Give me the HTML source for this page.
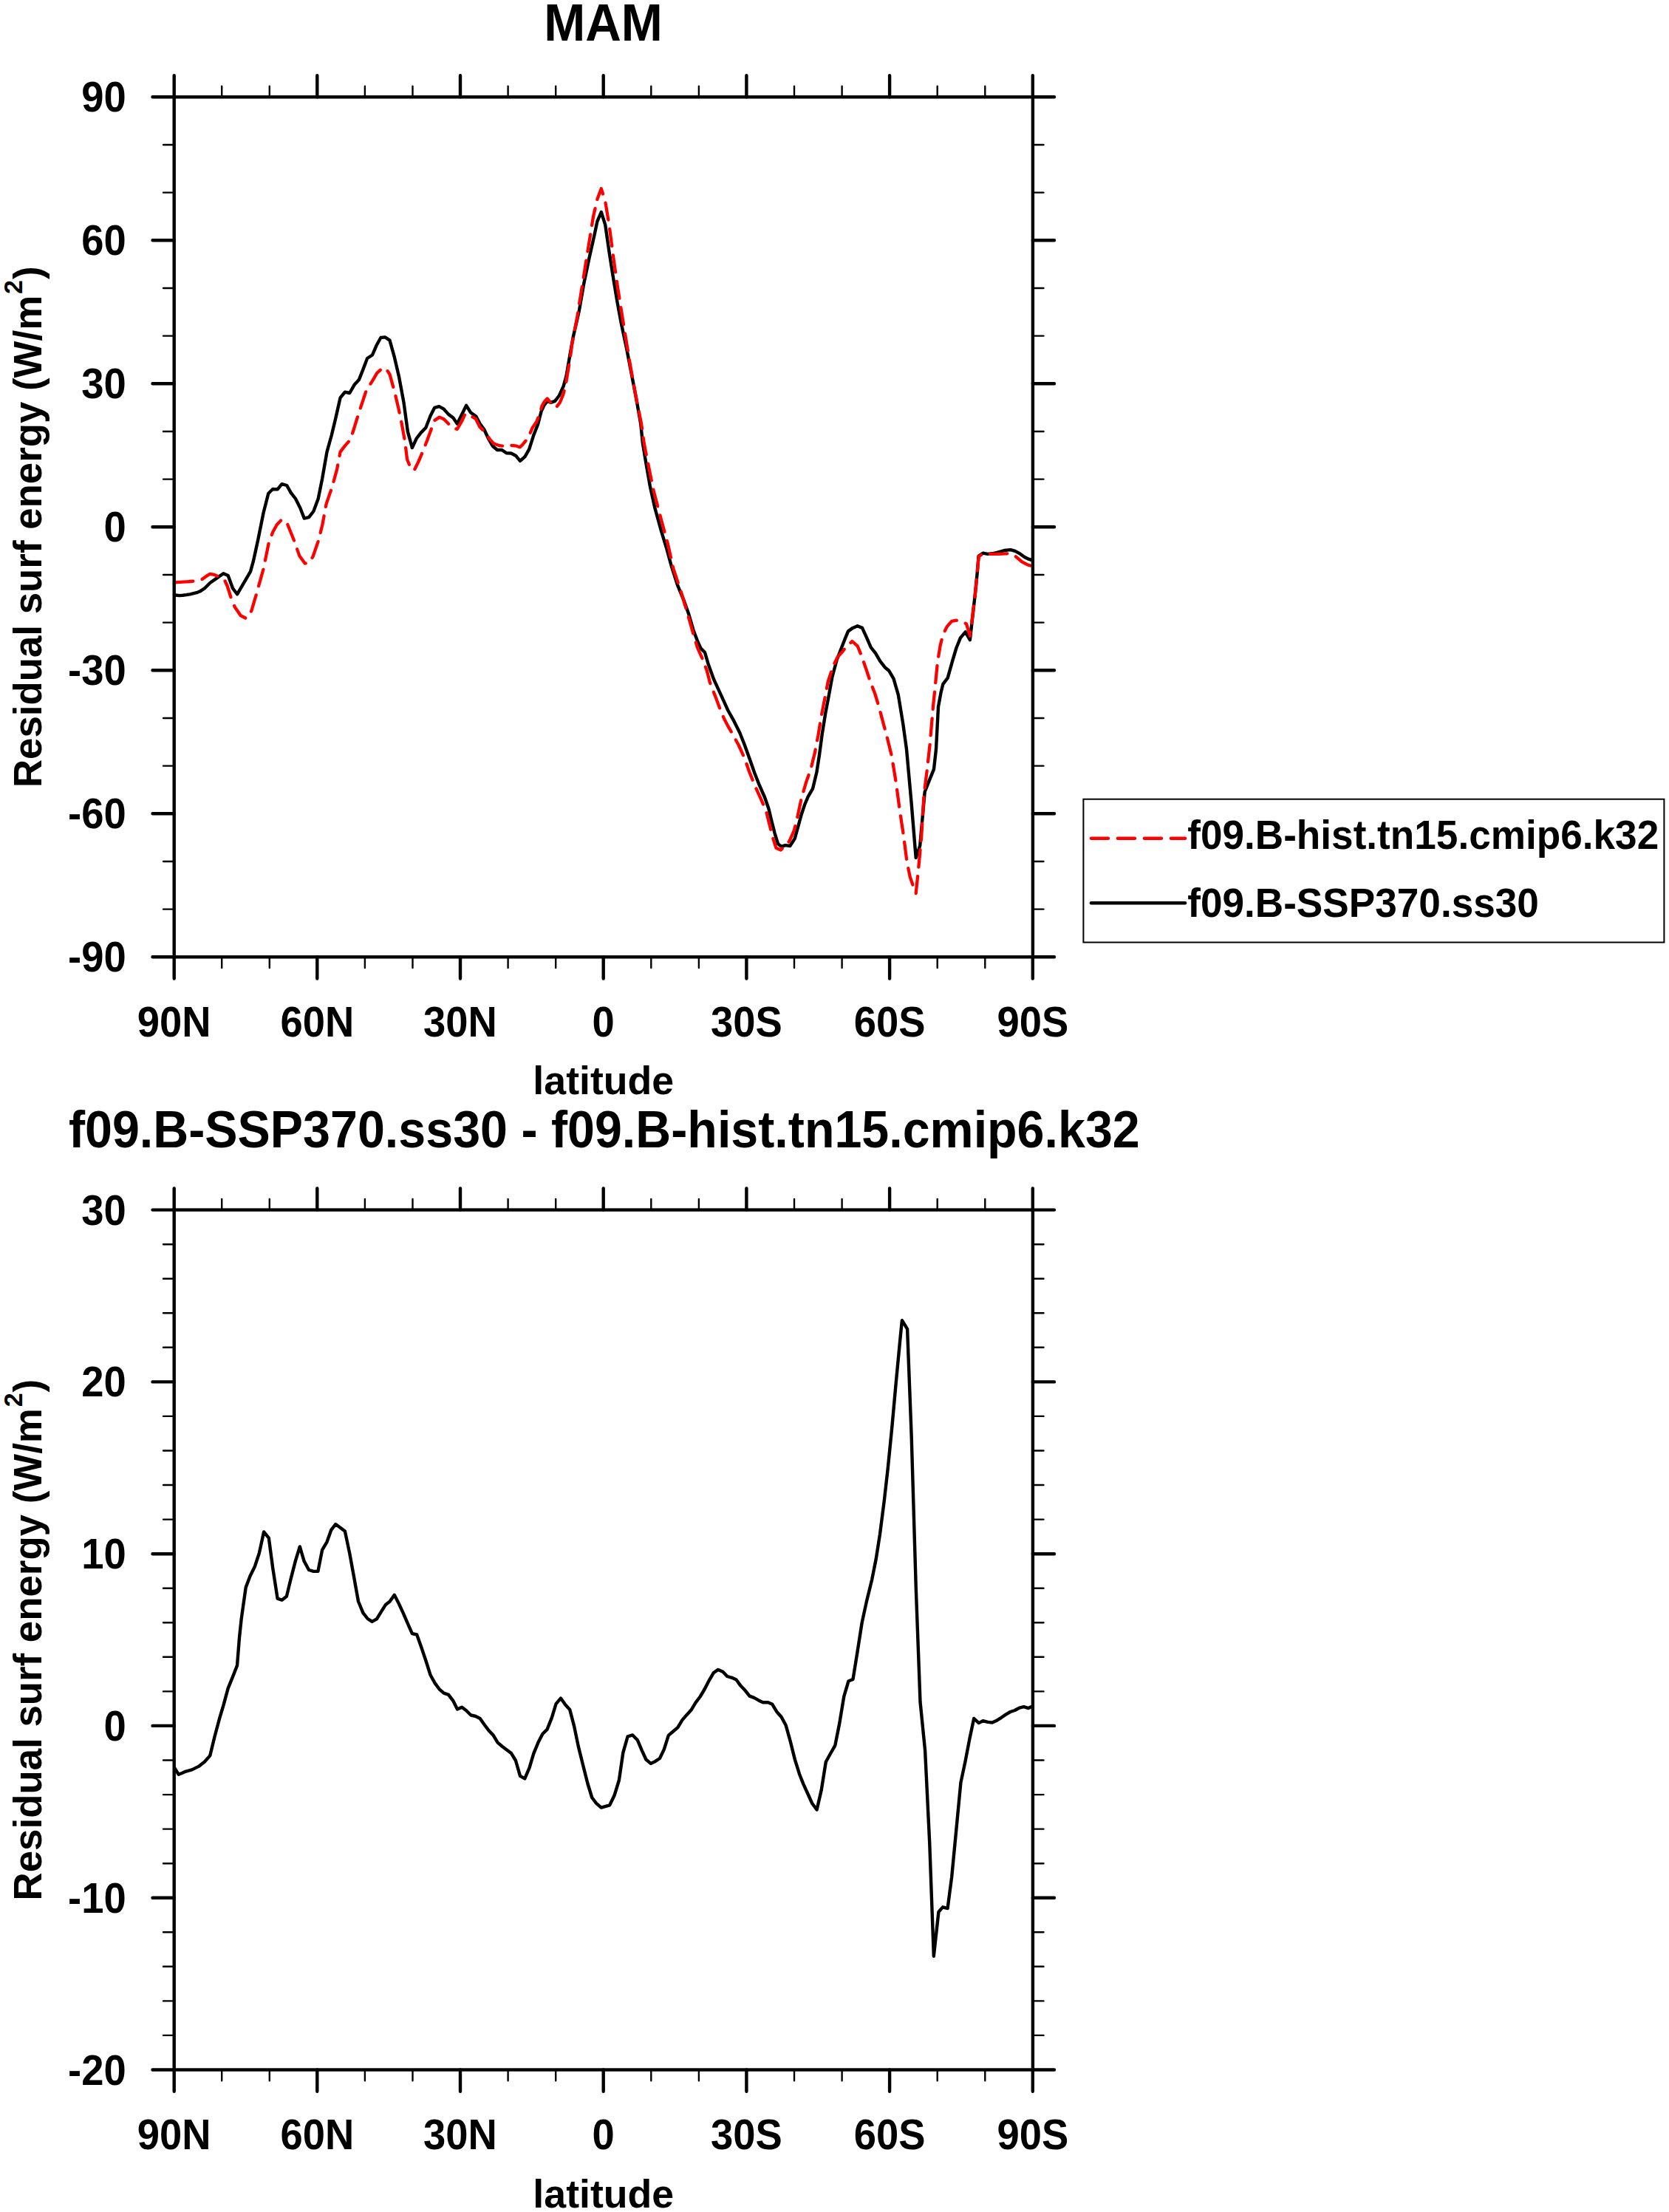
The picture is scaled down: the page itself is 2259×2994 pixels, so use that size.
<!DOCTYPE html>
<html lang="en"><head><meta charset="utf-8"><title>MAM residual surface energy</title>
<style>html,body{margin:0;padding:0;background:#fff}body{width:2259px;height:2994px;overflow:hidden}svg{display:block}text{font-family:'Liberation Sans', Arial, Helvetica, sans-serif;font-weight:bold;fill:#000}</style></head><body>
<svg width="2259" height="2994" viewBox="0 0 2259 2994">
<rect width="2259" height="2994" fill="#fff"/>
<text transform="translate(816.5 54.8) scale(0.948 1)" font-size="71" text-anchor="middle">MAM</text>
<defs><clipPath id="c1"><rect x="235.7" y="131.3" width="1162.2" height="1164"/></clipPath><clipPath id="c2"><rect x="235.7" y="1637.6" width="1162.2" height="1163.9"/></clipPath></defs>
<g clip-path="url(#c1)"><path d="M235.4 805.2 L242.7 806.1 L247.5 805.7 L252.3 805.1 L257.1 804.3 L266.2 802.2 L271.6 799.9 L277 796.2 L284.2 789 L293.3 782.6 L302.3 776.3 L308.7 779 L315 796.2 L321 804.3 L329.5 789.9 L339 773.6 L343 759.1 L349.3 730.2 L356.6 694 L363.3 667.8 L369.2 662 L375.6 662.4 L381.5 655.2 L388.2 657 L393.7 666.9 L400 675 L406.3 687.5 L411.8 701.6 L418.1 700.2 L424.4 692 L430.7 674.9 L436.2 647.7 L442.5 611.6 L448.8 589 L454.2 566.4 L460.6 538.3 L466.9 530.6 L473.2 532 L479.6 520.8 L485.9 513.9 L491.3 500.4 L497.1 485 L504 480.5 L509.4 467.8 L515.4 457 L521.2 456.4 L527.5 460.6 L533.8 483.2 L540.1 510.3 L546.5 544.7 L551.9 584.4 L557.9 606.1 L563.7 593.5 L570 585.4 L576.3 579 L582.6 562.7 L588.1 551.9 L594.4 550.1 L600.7 553.7 L607.1 560.9 L613.4 565.5 L618.8 573.6 L625.1 560.9 L631.1 548.8 L636.9 558.2 L644.3 563.5 L649.6 573.5 L655.3 581.2 L661.1 593.7 L666.8 603.7 L673.1 609 L679.3 609 L685.5 613.3 L691.8 613.5 L698 616.7 L704 623.9 L710.5 618.1 L716.2 608.1 L722 589.8 L728.2 574 L732.5 557.2 L736.4 548.6 L740.7 542.9 L745.5 544.8 L751.2 542.9 L757 535.2 L762.7 522.7 L766.6 508.4 L770.4 486.3 L775.8 456 L784 419.9 L790.3 383.7 L797.5 349.3 L804.8 316.8 L808.4 299.6 L813.8 287 L819.2 304.1 L824.7 342.1 L830.1 376.5 L835.5 409 L840.9 438 L848.2 472.3 L854.5 504.9 L860.8 537.4 L867.2 573.6 L869.9 600 L874.4 627.1 L879.8 657.9 L886.2 686.8 L895.2 719.3 L902.4 742.9 L908.8 766.4 L916.9 791.7 L925.9 813.4 L932.3 831.5 L938.6 853.2 L944 867.6 L948.6 877.6 L954 883 L958.5 898.4 L966.3 919.9 L971.7 931.7 L977.1 943.4 L985.3 961.5 L993.4 975.9 L1001.5 992.2 L1007.9 1008.5 L1015.1 1028.4 L1021.4 1046.5 L1027.8 1062.7 L1035 1079 L1040.4 1094.4 L1044 1109.8 L1048.6 1127.8 L1053.1 1142.3 L1057.6 1145.9 L1063 1144.1 L1069.3 1145 L1075.7 1135.1 L1080.2 1118.8 L1084.7 1102.5 L1089.2 1089 L1093.8 1078.1 L1100.1 1067.3 L1105.5 1044.7 L1109.1 1021.2 L1112.7 994 L1117.3 965.1 L1121.8 941.6 L1126.3 916.8 L1132.6 893.3 L1138.9 877 L1143.5 865.2 L1148 854.4 L1154.3 849.9 L1160.6 847.2 L1167 849.9 L1172.4 861.6 L1178.7 876.1 L1185 884.2 L1191.4 895.1 L1197.7 903.2 L1203.1 907.7 L1209.5 918.6 L1215.8 940.3 L1222.3 980 L1227 1014.1 L1233.5 1085.8 L1239.7 1161 L1245.2 1144.6 L1251.7 1071.7 L1257.8 1056.4 L1264 1041.1 L1267 1014.1 L1270 956.6 L1273.7 936.7 L1276.4 925.8 L1282.7 917.7 L1289 895.1 L1294.4 877 L1299.9 863.4 L1306.7 855.3 L1312.9 866.1 L1316.1 837.2 L1319.8 804.7 L1322.5 777.5 L1324.6 752.6 L1330.6 748.6 L1336.9 749.9 L1342.8 749.3 L1348.7 748.2 L1354.1 746.6 L1359.5 745 L1367.7 744.1 L1374 745.9 L1381.2 749.9 L1386.7 754 L1392.1 756.7 L1397.9 758.6" fill="none" stroke="#000" stroke-width="4.4" stroke-linejoin="round" stroke-linecap="round"/>
<path d="M235.7 788.4 L239.6 788.2 L243.9 787.9 L248.1 787.7 L252.9 787.4 L257.7 787 L262.5 786.6 L267.9 785.6 L273.4 784.1 L278.8 780.2 L284.2 776.9 L290.1 777.9 L296 780.5 L304.1 785.4 L307.8 793.5 L312.3 808 L317.7 821.5 L325.8 833.3 L333.1 836.9 L340.3 826.9 L347.5 802.5 L356.6 770 L363.8 734.7 L369.2 720.3 L374.7 710.3 L381.5 703.1 L389.1 709.4 L398.2 732 L405.4 752.6 L412.7 762.6 L418.1 761.6 L423.5 753.5 L430.7 732.7 L436.2 711 L441.6 682.1 L449.7 658.6 L456.1 635.1 L460.6 611.6 L466.9 603.4 L473.2 596.2 L477.8 584.4 L485 560.9 L488.6 550.1 L495.8 528.4 L504 515.7 L510.3 504.9 L516.6 499.1 L522 498.3 L527.5 506.7 L533.8 529.3 L539.2 551.9 L543.8 573.6 L548.3 598.9 L551 621.5 L556.4 635.1 L560.9 636 L565.9 625.9 L570.9 614.3 L578.1 596.2 L584.4 579 L588.1 569.1 L594.9 564.6 L600.7 567.3 L608 574.5 L613.4 579.5 L618.8 580.8 L625.1 570 L629.7 560 L636.9 562.7 L643.8 566.8 L649.1 577.4 L657.7 586.5 L663 594.6 L668.3 600.4 L675 602.8 L680 603.6 L685.1 603.9 L691.8 602.8 L697.5 603.3 L703.8 605.2 L708.1 600.9 L714.8 592.7 L720.5 579.3 L726.3 570.7 L730.6 560.1 L733.5 549.6 L736.8 543.8 L740.7 539.5 L749.3 549.6 L752.7 551.5 L757.9 544.8 L762.2 534.2 L765.6 521.8 L768.5 503.6 L771.8 484.4 L774 466.9 L781.3 428.9 L788.5 383.7 L795.7 338.5 L803 293.3 L808.4 269.8 L813.8 255.3 L819.2 272.5 L824.7 305.9 L830.1 347.5 L835.5 385.5 L840.9 419.9 L846.4 454.2 L853.6 497.6 L860.8 537.4 L868.1 573.6 L871.7 600 L877.1 627.1 L884.4 663.3 L893.4 697.6 L898.8 717.5 L904.2 737.4 L911.5 770 L916.9 786.4 L922.3 802.5 L931.4 833.3 L938.6 858.6 L944 876.7 L950.4 891.1 L956.7 907.4 L960.8 923.5 L969.9 947 L974.8 960.2 L979.8 972.3 L985.2 982.6 L990.7 992.2 L999.7 1008.5 L1007.9 1026.6 L1014.2 1044.7 L1021.4 1062.7 L1029.6 1080.8 L1036.8 1097.1 L1041.3 1115.2 L1045.8 1133.3 L1050.4 1147.7 L1056.7 1150.5 L1062.1 1145 L1068.4 1138.7 L1074.8 1124.2 L1079.3 1106.1 L1084.7 1080.8 L1091 1059.1 L1097.4 1041 L1102.8 1019.3 L1107.3 995.8 L1111.8 968.7 L1116.4 945.2 L1120.8 922.2 L1128.1 900.5 L1133.5 889.7 L1140.7 881.5 L1145.3 875.2 L1153.4 868 L1160.6 874.3 L1166.1 887.8 L1172.4 905.9 L1177.8 922.2 L1184.1 938.5 L1189.6 956.6 L1195.9 980.1 L1201.2 1000 L1207 1023.5 L1212.9 1059.9 L1217.6 1095.2 L1222.9 1130.5 L1227.6 1166.9 L1231.7 1186.9 L1237 1202.2 L1239.7 1209.2 L1242.3 1184.5 L1247 1135.2 L1250.5 1076.4 L1255.2 1038.8 L1258.8 1005.9 L1262.8 958.4 L1265.9 927.6 L1269.1 895.1 L1272.7 873.4 L1276.4 858.9 L1281.8 848.1 L1288.1 840.8 L1294.4 839.6 L1301.7 841.7 L1308 844.4 L1312.9 860.7 L1316.1 835.4 L1319.8 804.7 L1322.5 777.5 L1324.6 753.1 L1330.6 749.5 L1336 749.7 L1341.5 749.9 L1346.9 749.9 L1352.3 749.9 L1356.5 749.7 L1360.8 749.4 L1365 749.2 L1374 752.6 L1383.1 760.4 L1390.3 764.2 L1397.9 766.7" fill="none" stroke="#f00" stroke-width="4.3" stroke-linejoin="round" stroke-linecap="round" stroke-dasharray="23.2 12.58" stroke-dashoffset="33.3"/></g>
<rect x="235.7" y="131.3" width="1162.2" height="1164" fill="none" stroke="#000" stroke-width="4.4"/>
<path d="M235.7 131.3V102.1M235.7 1295.3V1324.5M429.3 131.3V102.1M429.3 1295.3V1324.5M623 131.3V102.1M623 1295.3V1324.5M816.7 131.3V102.1M816.7 1295.3V1324.5M1010.4 131.3V102.1M1010.4 1295.3V1324.5M1204.1 131.3V102.1M1204.1 1295.3V1324.5M1397.8 131.3V102.1M1397.8 1295.3V1324.5M235.7 131.3H206.5M1397.8 131.3H1427M235.7 325.3H206.5M1397.8 325.3H1427M235.7 519.3H206.5M1397.8 519.3H1427M235.7 713.3H206.5M1397.8 713.3H1427M235.7 907.3H206.5M1397.8 907.3H1427M235.7 1101.3H206.5M1397.8 1101.3H1427M235.7 1295.3H206.5M1397.8 1295.3H1427" stroke="#000" stroke-width="4.4" stroke-linecap="round" fill="none"/>
<path d="M300.2 131.3V116.6M300.2 1295.3V1310M364.8 131.3V116.6M364.8 1295.3V1310M493.9 131.3V116.6M493.9 1295.3V1310M558.5 131.3V116.6M558.5 1295.3V1310M687.6 131.3V116.6M687.6 1295.3V1310M752.2 131.3V116.6M752.2 1295.3V1310M881.3 131.3V116.6M881.3 1295.3V1310M945.9 131.3V116.6M945.9 1295.3V1310M1075 131.3V116.6M1075 1295.3V1310M1139.6 131.3V116.6M1139.6 1295.3V1310M1268.7 131.3V116.6M1268.7 1295.3V1310M1333.3 131.3V116.6M1333.3 1295.3V1310M235.7 196H221M1397.8 196H1412.5M235.7 260.6H221M1397.8 260.6H1412.5M235.7 390H221M1397.8 390H1412.5M235.7 454.6H221M1397.8 454.6H1412.5M235.7 584H221M1397.8 584H1412.5M235.7 648.6H221M1397.8 648.6H1412.5M235.7 778H221M1397.8 778H1412.5M235.7 842.6H221M1397.8 842.6H1412.5M235.7 972H221M1397.8 972H1412.5M235.7 1036.6H221M1397.8 1036.6H1412.5M235.7 1166H221M1397.8 1166H1412.5M235.7 1230.6H221M1397.8 1230.6H1412.5" stroke="#000" stroke-width="2.4" stroke-linecap="round" fill="none"/>
<text transform="translate(170.7 151.3) scale(0.9457 1)" font-size="57.5" text-anchor="end">90</text>
<text transform="translate(170.7 345.3) scale(0.9457 1)" font-size="57.5" text-anchor="end">60</text>
<text transform="translate(170.7 539.3) scale(0.9457 1)" font-size="57.5" text-anchor="end">30</text>
<text transform="translate(170.7 733.3) scale(0.9457 1)" font-size="57.5" text-anchor="end">0</text>
<text transform="translate(170.7 927.3) scale(0.9457 1)" font-size="57.5" text-anchor="end">-30</text>
<text transform="translate(170.7 1121.3) scale(0.9457 1)" font-size="57.5" text-anchor="end">-60</text>
<text transform="translate(170.7 1315.3) scale(0.9457 1)" font-size="57.5" text-anchor="end">-90</text>
<text transform="translate(235.7 1403.2) scale(0.9457 1)" font-size="57.5" text-anchor="middle">90N</text>
<text transform="translate(429.3 1403.2) scale(0.9457 1)" font-size="57.5" text-anchor="middle">60N</text>
<text transform="translate(623 1403.2) scale(0.9457 1)" font-size="57.5" text-anchor="middle">30N</text>
<text transform="translate(816.7 1403.2) scale(0.9457 1)" font-size="57.5" text-anchor="middle">0</text>
<text transform="translate(1010.4 1403.2) scale(0.9457 1)" font-size="57.5" text-anchor="middle">30S</text>
<text transform="translate(1204.1 1403.2) scale(0.9457 1)" font-size="57.5" text-anchor="middle">60S</text>
<text transform="translate(1397.8 1403.2) scale(0.9457 1)" font-size="57.5" text-anchor="middle">90S</text>
<text transform="translate(816.8 1481.4) scale(0.987 1)" font-size="54.4" text-anchor="middle">latitude</text>
<text transform="translate(55.7 713.3) rotate(-90) scale(0.971 1)" font-size="54.4" text-anchor="middle">Residual surf energy (W/m<tspan font-size="35" dy="-26" dx="2">2</tspan><tspan dy="26" dx="1">)</tspan></text>
<rect x="1466.4" y="1081.7" width="786" height="193.8" fill="#fff" stroke="#000" stroke-width="2"/>
<path d="M1477 1134.8H1604" stroke="#f00" stroke-width="4.6" stroke-linecap="round" stroke-dasharray="22.9 13.1" fill="none"/>
<path d="M1477 1222.3H1604" stroke="#000" stroke-width="4.6" stroke-linecap="round" fill="none"/>
<text transform="translate(1607.2 1148.7) scale(0.9736 1)" font-size="54.6">f09.B-hist.tn15.cmip6.k32</text>
<text transform="translate(1607.2 1241.2) scale(0.9736 1)" font-size="54.6">f09.B-SSP370.ss30</text>
<text transform="translate(817.8 1553.2) scale(0.935 1)" font-size="71" text-anchor="middle">f09.B-SSP370.ss30 - f09.B-hist.tn15.cmip6.k32</text>
<path clip-path="url(#c2)" d="M235.4 2391.8 L241.8 2401.7 L246.8 2399.7 L251.7 2397.6 L259.8 2395.4 L268.9 2390.9 L277 2384.5 L284.2 2376.4 L290.6 2350.2 L296.9 2326.7 L302.3 2308.6 L308.7 2285.1 L315 2269.7 L321 2254.3 L324 2216.4 L326.7 2191 L332.7 2148.6 L338.5 2133.2 L344.8 2120.5 L350.8 2102.4 L357.1 2073.5 L363.8 2081.6 L369.2 2122.3 L375.6 2163.6 L381.5 2165.7 L387.9 2160.7 L393.7 2136.8 L400 2112.4 L405.8 2093.4 L411.7 2113.3 L418.1 2125 L424.4 2126.9 L430.4 2126.9 L436.1 2097.9 L442.5 2087.1 L448.3 2070.8 L454.2 2063 L460.6 2067.7 L466.9 2072.6 L473.2 2102.4 L479.5 2136.8 L485 2167.5 L491.3 2182.9 L497.6 2191 L503.6 2194.9 L509.9 2191.3 L515.4 2182.3 L521.7 2172.3 L527.5 2167.8 L533.8 2158.8 L539.8 2170.5 L546.1 2184.1 L551.9 2197.6 L557.9 2211.2 L564.2 2212.5 L570.5 2230.2 L576.9 2249.2 L582.6 2267.3 L588.6 2278.1 L594.6 2286.3 L600.7 2291.7 L607.1 2293.9 L613 2301.6 L619 2313.4 L625.1 2310.7 L631.1 2315.2 L637.4 2321.5 L643.8 2323 L649.7 2326 L655.5 2334.2 L661.5 2342.3 L667.6 2348.6 L673.6 2358.6 L679.9 2364 L685.9 2368.5 L692 2373.1 L698 2383 L704 2403.8 L710.3 2407.4 L716.5 2392.9 L722.4 2373.1 L728.4 2358.6 L734.5 2346.8 L740.5 2340.9 L746.8 2325.1 L752.6 2306.1 L759 2298.6 L765.3 2307.6 L771.2 2313.9 L777.2 2336.9 L782.7 2363.4 L789 2388.7 L795.4 2414 L801.2 2433 L807.1 2440.8 L813.8 2446.6 L819.8 2444.8 L825.2 2443.3 L831.5 2430.3 L837.9 2409.5 L843.3 2372.4 L849.6 2350.4 L856.3 2348.4 L862.8 2355.2 L868.6 2368.8 L874.4 2381.5 L880.7 2386.9 L886.7 2384.2 L893 2380 L898.8 2367.9 L904.8 2348.9 L911.1 2343.5 L917.4 2338.1 L923.4 2328.1 L929.7 2320.9 L935.5 2314.6 L941.5 2304.6 L947.6 2296.5 L953.6 2286.5 L959.6 2274.8 L965.7 2264.3 L972 2259.9 L978.4 2262.7 L984.3 2269 L990.7 2270.8 L996.5 2273.5 L1002.4 2281.6 L1008.8 2288.3 L1014.5 2295.6 L1020.5 2297.9 L1026.8 2301.4 L1032.6 2304.2 L1039 2304.1 L1045.3 2306.8 L1051.2 2316.7 L1057.6 2324 L1063.7 2335.3 L1069.8 2357.2 L1075.9 2381.6 L1082 2401.2 L1087.3 2414.6 L1093.4 2428 L1099.1 2440.7 L1105.6 2449.5 L1111.7 2423.1 L1117.8 2384.8 L1123.9 2373.8 L1130.3 2362.6 L1136.2 2332.8 L1142.3 2296.2 L1148.4 2275.5 L1154.5 2273 L1160.6 2235.2 L1166.7 2196.1 L1172.8 2168.1 L1180.2 2137.9 L1185.6 2110.8 L1191 2076.5 L1196.8 2031.2 L1201.9 1986 L1207.3 1931.8 L1212.7 1872.1 L1218.2 1814.2 L1220.9 1787.1 L1228.1 1798.9 L1233.7 1945 L1239.8 2150 L1245.5 2303.5 L1252.1 2369.4 L1258.2 2493.9 L1263.8 2647.7 L1270.4 2587.9 L1276 2581.3 L1282.6 2583 L1288.2 2540.3 L1294.3 2476.8 L1300.4 2412.9 L1306.5 2384.1 L1312.6 2352.4 L1318.2 2326 L1324.8 2332.1 L1330.4 2329.2 L1337 2330.9 L1343.1 2331.6 L1349.2 2328.7 L1355.3 2324.8 L1361.4 2320.6 L1367.5 2317 L1373.6 2315 L1379.7 2311.6 L1385.8 2310.1 L1392 2312.1 L1397.3 2309.6" fill="none" stroke="#000" stroke-width="4.4" stroke-linejoin="round" stroke-linecap="round"/>
<rect x="235.7" y="1637.6" width="1162.2" height="1163.9" fill="none" stroke="#000" stroke-width="4.4"/>
<path d="M235.7 1637.6V1608.4M235.7 2801.5V2830.7M429.3 1637.6V1608.4M429.3 2801.5V2830.7M623 1637.6V1608.4M623 2801.5V2830.7M816.7 1637.6V1608.4M816.7 2801.5V2830.7M1010.4 1637.6V1608.4M1010.4 2801.5V2830.7M1204.1 1637.6V1608.4M1204.1 2801.5V2830.7M1397.8 1637.6V1608.4M1397.8 2801.5V2830.7M235.7 1637.6H206.5M1397.8 1637.6H1427M235.7 1870.4H206.5M1397.8 1870.4H1427M235.7 2103.2H206.5M1397.8 2103.2H1427M235.7 2335.9H206.5M1397.8 2335.9H1427M235.7 2568.7H206.5M1397.8 2568.7H1427M235.7 2801.5H206.5M1397.8 2801.5H1427" stroke="#000" stroke-width="4.4" stroke-linecap="round" fill="none"/>
<path d="M300.2 1637.6V1622.9M300.2 2801.5V2816.2M364.8 1637.6V1622.9M364.8 2801.5V2816.2M493.9 1637.6V1622.9M493.9 2801.5V2816.2M558.5 1637.6V1622.9M558.5 2801.5V2816.2M687.6 1637.6V1622.9M687.6 2801.5V2816.2M752.2 1637.6V1622.9M752.2 2801.5V2816.2M881.3 1637.6V1622.9M881.3 2801.5V2816.2M945.9 1637.6V1622.9M945.9 2801.5V2816.2M1075 1637.6V1622.9M1075 2801.5V2816.2M1139.6 1637.6V1622.9M1139.6 2801.5V2816.2M1268.7 1637.6V1622.9M1268.7 2801.5V2816.2M1333.3 1637.6V1622.9M1333.3 2801.5V2816.2M235.7 1684.2H221M1397.8 1684.2H1412.5M235.7 1730.7H221M1397.8 1730.7H1412.5M235.7 1777.3H221M1397.8 1777.3H1412.5M235.7 1823.8H221M1397.8 1823.8H1412.5M235.7 1916.9H221M1397.8 1916.9H1412.5M235.7 1963.5H221M1397.8 1963.5H1412.5M235.7 2010H221M1397.8 2010H1412.5M235.7 2056.6H221M1397.8 2056.6H1412.5M235.7 2149.7H221M1397.8 2149.7H1412.5M235.7 2196.3H221M1397.8 2196.3H1412.5M235.7 2242.8H221M1397.8 2242.8H1412.5M235.7 2289.4H221M1397.8 2289.4H1412.5M235.7 2382.5H221M1397.8 2382.5H1412.5M235.7 2429.1H221M1397.8 2429.1H1412.5M235.7 2475.6H221M1397.8 2475.6H1412.5M235.7 2522.2H221M1397.8 2522.2H1412.5M235.7 2615.3H221M1397.8 2615.3H1412.5M235.7 2661.8H221M1397.8 2661.8H1412.5M235.7 2708.4H221M1397.8 2708.4H1412.5M235.7 2754.9H221M1397.8 2754.9H1412.5" stroke="#000" stroke-width="2.4" stroke-linecap="round" fill="none"/>
<text transform="translate(170.7 1657.6) scale(0.9457 1)" font-size="57.5" text-anchor="end">30</text>
<text transform="translate(170.7 1890.4) scale(0.9457 1)" font-size="57.5" text-anchor="end">20</text>
<text transform="translate(170.7 2123.2) scale(0.9457 1)" font-size="57.5" text-anchor="end">10</text>
<text transform="translate(170.7 2355.9) scale(0.9457 1)" font-size="57.5" text-anchor="end">0</text>
<text transform="translate(170.7 2588.7) scale(0.9457 1)" font-size="57.5" text-anchor="end">-10</text>
<text transform="translate(170.7 2821.5) scale(0.9457 1)" font-size="57.5" text-anchor="end">-20</text>
<text transform="translate(235.7 2909.4) scale(0.9457 1)" font-size="57.5" text-anchor="middle">90N</text>
<text transform="translate(429.3 2909.4) scale(0.9457 1)" font-size="57.5" text-anchor="middle">60N</text>
<text transform="translate(623 2909.4) scale(0.9457 1)" font-size="57.5" text-anchor="middle">30N</text>
<text transform="translate(816.7 2909.4) scale(0.9457 1)" font-size="57.5" text-anchor="middle">0</text>
<text transform="translate(1010.4 2909.4) scale(0.9457 1)" font-size="57.5" text-anchor="middle">30S</text>
<text transform="translate(1204.1 2909.4) scale(0.9457 1)" font-size="57.5" text-anchor="middle">60S</text>
<text transform="translate(1397.8 2909.4) scale(0.9457 1)" font-size="57.5" text-anchor="middle">90S</text>
<text transform="translate(816.8 2987.6) scale(0.987 1)" font-size="54.4" text-anchor="middle">latitude</text>
<text transform="translate(55.7 2219.6) rotate(-90) scale(0.971 1)" font-size="54.4" text-anchor="middle">Residual surf energy (W/m<tspan font-size="35" dy="-26" dx="2">2</tspan><tspan dy="26" dx="1">)</tspan></text>
</svg></body></html>
